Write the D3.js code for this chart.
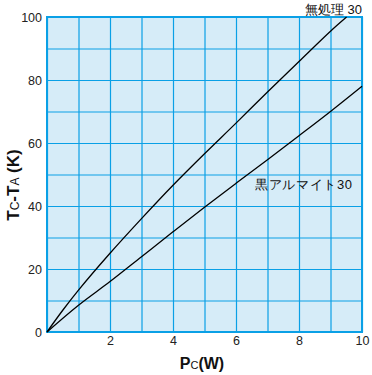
<!DOCTYPE html>
<html>
<head>
<meta charset="utf-8">
<script src="https://cdn.jsdelivr.net/npm/d3@7"></script>
<style>
  html, body { margin: 0; padding: 0; background: #fff; }
  svg { display: block; }
  text { font-family: "Liberation Sans", Arial, sans-serif; }
</style>
</head>
<body>
<svg id="chart" width="372" height="375"></svg>
<script>
// ---- data ----
const xTicks = [2, 4, 6, 8, 10];
const yTicks = [0, 20, 40, 60, 80, 100];
const xGrid = [0, 1, 2, 3, 4, 5, 6, 7, 8, 9, 10];
const yGrid = [0, 10, 20, 30, 40, 50, 60, 70, 80, 90, 100];

const untreatedPc = [0, 0.5, 1, 2, 3, 4, 5, 6, 7, 8, 9, 9.51];
const untreatedT  = [0, 6.9, 13.3, 25, 36, 46.6, 56.6, 66.3, 76.2, 85.9, 95.5, 100];

const blackPc = [0, 1, 2, 3, 4, 5, 6, 7, 8, 9, 10];
const blackT  = [0, 8.5, 16, 23.9, 31.8, 39.6, 47.2, 54.7, 62.3, 70, 78];

const seriesLabels = ["無処理 30", "黒アルマイト30"];

// ---- layout ----
const svg = d3.select("#chart");
const L = 47, T = 17, W = 315, H = 315;
const x = d3.scaleLinear().domain([0, 10]).range([L, L + W]);
const y = d3.scaleLinear().domain([0, 100]).range([T + H, T]);

const gridColor = "#0aa0e6";
const fillColor = "#d6ecf8";

svg.append("rect").attr("x", L).attr("y", T).attr("width", W).attr("height", H)
  .attr("fill", fillColor);

// grid via axes
svg.append("g").attr("transform", `translate(0,${T + H})`)
  .call(d3.axisBottom(x).tickValues(xGrid).tickSize(-H).tickFormat(""))
  .call(g => g.select(".domain").remove())
  .call(g => g.selectAll("line").attr("stroke", gridColor).attr("stroke-width", 1.2));
svg.append("g").attr("transform", `translate(${L},0)`)
  .call(d3.axisLeft(y).tickValues(yGrid).tickSize(-W).tickFormat(""))
  .call(g => g.select(".domain").remove())
  .call(g => g.selectAll("line").attr("stroke", gridColor).attr("stroke-width", 1.2));

// frame
svg.append("rect").attr("x", L).attr("y", T).attr("width", W).attr("height", H)
  .attr("fill", "none").attr("stroke", gridColor).attr("stroke-width", 2);

// tick labels
svg.append("g").attr("transform", `translate(${L},0)`)
  .call(d3.axisLeft(y).tickValues(yTicks).tickSize(0).tickPadding(5).tickFormat(d3.format("d")))
  .call(g => g.select(".domain").remove())
  .call(g => g.selectAll("text").attr("font-size", 12.5).attr("fill", "#222")
    .attr("font-family", "Liberation Sans, Arial, sans-serif"));
svg.append("g").attr("transform", `translate(0,${T + H})`)
  .call(d3.axisBottom(x).tickValues(xTicks).tickSize(0).tickPadding(4).tickFormat(d3.format("d")))
  .call(g => g.select(".domain").remove())
  .call(g => g.selectAll("text").attr("font-size", 12.5).attr("fill", "#222")
    .attr("font-family", "Liberation Sans, Arial, sans-serif"));

// curves
const line = d3.line().x(d => x(d[0])).y(d => y(d[1])).curve(d3.curveCatmullRom.alpha(0.5));
const s1 = untreatedPc.map((v, i) => [v, untreatedT[i]]);
const s2 = blackPc.map((v, i) => [v, blackT[i]]);
[s1, s2].forEach(s => {
  svg.append("path").datum(s).attr("d", line)
    .attr("fill", "none").attr("stroke", "#000").attr("stroke-width", 1.3);
});

// series labels
const cjk = '"Noto Sans CJK JP", "Noto Sans", sans-serif';
svg.append("text").attr("x", 362).attr("y", 13.5).attr("text-anchor", "end")
  .attr("font-size", 13).attr("font-family", cjk).attr("fill", "#111")
  .text(seriesLabels[0]);
svg.append("text").attr("x", 255).attr("y", 189).attr("font-size", 13)
  .attr("font-family", cjk).attr("fill", "#111")
  .attr("textLength", 97).attr("lengthAdjust", "spacing")
  .text(seriesLabels[1]);

// x title
const xt = svg.append("text").attr("x", 202).attr("y", 368.5).attr("text-anchor", "middle")
  .attr("fill", "#111");
xt.append("tspan").attr("font-size", 16).attr("font-weight", "bold").text("P");
xt.append("tspan").attr("font-size", 11).text("C");
xt.append("tspan").attr("font-size", 16).attr("font-weight", "bold").text("(W)");

// y title
const yt = svg.append("text").attr("transform", "translate(18.5,185) rotate(-90)")
  .attr("text-anchor", "middle").attr("fill", "#111");
yt.append("tspan").attr("font-size", 17).attr("font-weight", "bold").text("T");
yt.append("tspan").attr("font-size", 12).text("C");
yt.append("tspan").attr("font-size", 17).attr("font-weight", "bold").text("-T");
yt.append("tspan").attr("font-size", 12).text("A");
yt.append("tspan").attr("font-size", 17).attr("font-weight", "bold").text(" (K)");
</script>
</body>
</html>
